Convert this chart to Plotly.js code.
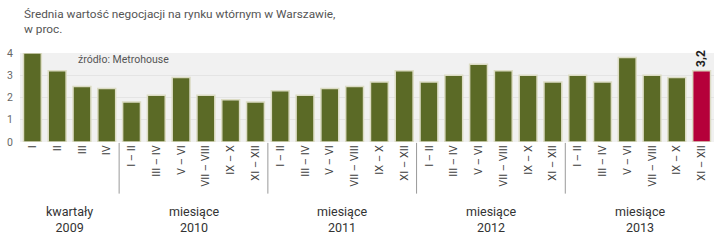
<!DOCTYPE html>
<html><head><meta charset="utf-8">
<script src="https://cdn.plot.ly/plotly-3.0.1.min.js"></script>
<style>html,body{margin:0;padding:0;background:#fff}#chart{width:720px;height:249px}</style>
</head><body><div id="chart"></div>
<script>
const tickLabels = ["I","II","III","IV",
  "I – II","III – IV","V – VI","VII – VIII","IX – X","XI – XII",
  "I – II","III – IV","V – VI","VII – VIII","IX – X","XI – XII",
  "I – II","III – IV","V – VI","VII – VIII","IX – X","XI – XII",
  "I – II","III – IV","V – VI","VII – VIII","IX – X","XI – XII"];
const values = [4.0,3.2,2.5,2.4,
  1.8,2.1,2.9,2.1,1.9,1.8,
  2.3,2.1,2.4,2.5,2.7,3.2,
  2.7,3.0,3.5,3.2,3.0,2.7,
  3.0,2.7,3.8,3.0,2.9,3.2];
const groupNames = ["kwartały<br>2009","miesiące<br>2010","miesiące<br>2011","miesiące<br>2012","miesiące<br>2013"];
const groupSizes = [4,6,6,6,6];
const lastLabel = "3,2";
const titleText = "Średnia wartość negocjacji na rynku wtórnym w Warszawie,<br>w proc.";
const sourceText = "źródło: Metrohouse";

const idx = values.map((v,i)=>i);
const colors = values.map((v,i)=> i===values.length-1 ? '#b5003a' : '#5b6a26');
const font = "Roboto, 'DejaVu Sans', sans-serif";

const shapes = [];
const annotations = [];
let start = 0;
groupSizes.forEach((n,g)=>{
  const center = start + (n-1)/2;
  annotations.push({x:center, y:-0.87, xref:'x', yref:'paper', text:groupNames[g], showarrow:false,
    yanchor:'middle', font:{family:font, size:12.5, color:'#333'}, align:'center'});
  if (g>0) shapes.push({type:'line', xref:'x', yref:'paper', x0:start-0.5, x1:start-0.5, y0:-0.01, y1:-0.58,
    line:{color:'#999', width:1}});
  start += n;
});
annotations.push({x:values.length-1, y:values[values.length-1], xref:'x', yref:'y', text:'<b>'+lastLabel+'</b>',
  showarrow:false, textangle:-90, yanchor:'bottom', yshift:2, font:{family:font, size:12, color:'#222'}});
annotations.push({x:0.08, y:0.93, xref:'paper', yref:'paper', text:sourceText, showarrow:false,
  xanchor:'left', yanchor:'middle', font:{family:font, size:10.5, color:'#555'}});
annotations.push({x:0.003, y:1.54, xref:'paper', yref:'paper', text:titleText, showarrow:false,
  xanchor:'left', yanchor:'top', align:'left', font:{family:font, size:11.8, color:'#555'}});

Plotly.newPlot('chart', [{
  type:'bar', x:idx, y:values, width:0.72,
  marker:{color:colors, line:{color:'#dcdcc4', width:1.5}},
  hoverinfo:'none', cliponaxis:false
}], {
  width:720, height:249,
  margin:{l:20, r:6, t:53, b:107},
  paper_bgcolor:'#fff', plot_bgcolor:'#f1f1f1',
  showlegend:false,
  xaxis:{range:[-0.5, values.length-0.5], tickmode:'array', tickvals:idx, ticktext:tickLabels, tickangle:-90,
    tickfont:{family:font, size:11, color:'#444'}, showgrid:false, zeroline:false, ticks:'', ticklen:0, fixedrange:true},
  yaxis:{range:[0,4], tickvals:[0,1,2,3,4], tickfont:{family:font, size:10.5, color:'#666'},
    showgrid:true, gridcolor:'#e4e4e4', zeroline:false, ticks:'', ticklabelstandoff:6},
  shapes:shapes, annotations:annotations
}, {staticPlot:true, displayModeBar:false});
</script></body></html>
